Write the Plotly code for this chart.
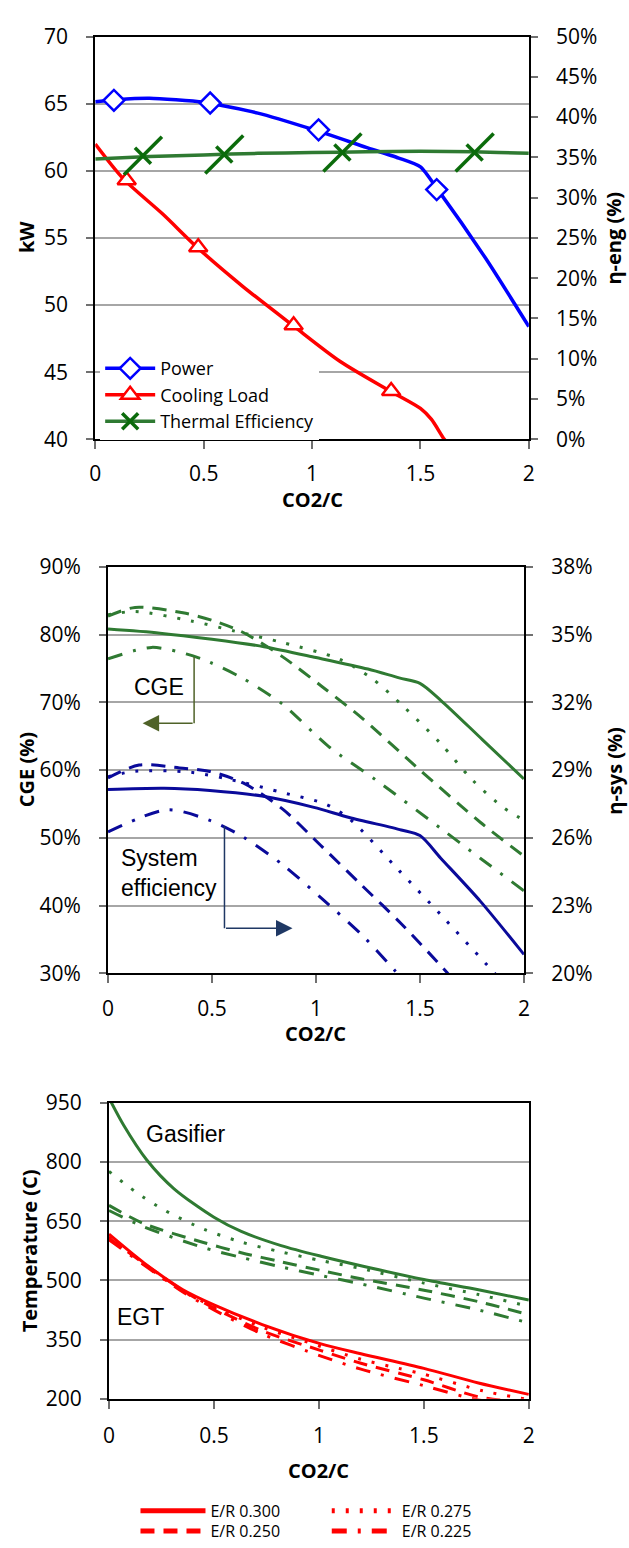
import plotly.graph_objects as go

W, H = 629, 1548

# ---------------- Panel 1 data ----------------
p1_power_x = [0, 0.1, 0.25, 0.5, 0.75, 1.0, 1.25, 1.4, 1.5, 1.58, 1.8, 2.0]
p1_power_y = [65.15, 65.3, 65.4, 65.1, 64.3, 63.1, 61.75, 60.95, 60.3, 58.6, 53.5, 48.4]
p1_cool_x = [0, 0.13, 0.31, 0.47, 0.68, 0.91, 1.13, 1.36, 1.5, 1.55, 1.61, 1.65]
p1_cool_y = [62.0, 59.4, 56.8, 54.3, 51.4, 48.5, 45.8, 43.6, 42.3, 41.5, 40.0, 39.2]
p1_eff_x = [0, 0.25, 0.5, 0.75, 1.0, 1.25, 1.5, 1.75, 2.0]
p1_eff_y = [34.8, 35.1, 35.3, 35.5, 35.6, 35.7, 35.75, 35.7, 35.5]
p1_power_mx = [0.086, 0.53, 1.03, 1.575]
p1_power_my = [65.25, 65.05, 63.05, 58.6]
p1_cool_mx = [0.145, 0.475, 0.915, 1.365]
p1_cool_my = [59.3, 54.3, 48.5, 43.6]
p1_eff_mx = [0.22, 0.595, 1.14, 1.75]
p1_eff_my = [35.2, 35.35, 35.6, 35.6]

# ---------------- Panel 2 data ----------------
cge_300_x = [0, 0.25, 0.5, 0.75, 1.0, 1.25, 1.4, 1.5, 1.6, 1.8, 2.0]
cge_300_y = [80.8, 80.2, 79.3, 78.2, 76.6, 74.9, 73.6, 72.8, 70.3, 64.5, 58.7]
cge_275_x = [0, 0.13, 0.4, 0.61, 0.84, 1.11, 1.27, 1.42, 1.6, 1.75, 1.9, 2.0]
cge_275_y = [82.9, 83.4, 82.0, 80.5, 78.8, 76.4, 73.5, 69.4, 63.9, 58.6, 54.5, 52.6]
cge_250_x = [0, 0.13, 0.36, 0.51, 0.65, 0.84, 1.03, 1.22, 1.5, 1.79, 2.0]
cge_250_y = [82.7, 84.0, 83.2, 82.0, 80.3, 76.7, 72.3, 67.7, 60.0, 52.3, 47.3]
cge_225_x = [0, 0.21, 0.38, 0.49, 0.65, 0.84, 1.06, 1.29, 1.6, 1.79, 2.0]
cge_225_y = [76.4, 78.1, 77.1, 75.9, 73.5, 69.7, 63.5, 58.5, 51.4, 47.0, 42.2]

sys_300_x = [0, 0.27, 0.49, 0.74, 0.99, 1.16, 1.41, 1.5, 1.6, 1.79, 2.0]
sys_300_y = [28.14, 28.2, 28.1, 27.85, 27.35, 26.9, 26.35, 26.1, 25.1, 23.2, 20.84]
sys_275_x = [0, 0.13, 0.4, 0.65, 0.84, 1.045, 1.16, 1.4, 1.6, 1.84, 1.9]
sys_275_y = [28.7, 28.95, 28.9, 28.45, 28.0, 27.5, 26.85, 24.55, 22.6, 20.2, 19.6]
sys_250_x = [0, 0.15, 0.36, 0.49, 0.65, 0.84, 1.03, 1.22, 1.41, 1.63, 1.66]
sys_250_y = [28.65, 29.22, 29.08, 28.94, 28.43, 27.27, 25.6, 23.9, 22.2, 20.04, 19.7]
sys_225_x = [0, 0.285, 0.49, 0.65, 0.84, 1.03, 1.22, 1.38, 1.41]
sys_225_y = [26.26, 27.24, 26.77, 26.04, 24.81, 23.3, 21.71, 20.12, 19.8]

# ---------------- Panel 3 data ----------------
gas_300_x = [0, 0.07, 0.18, 0.31, 0.5, 0.63, 0.82, 1.01, 1.2, 1.5, 1.76, 2.0]
gas_300_y = [962, 893, 805, 732, 660, 624, 588, 561, 537, 502, 476, 450]
gas_275_x = [0, 0.13, 0.26, 0.45, 0.63, 0.82, 1.01, 1.2, 1.5, 1.76, 2.0]
gas_275_y = [776, 723, 679, 630, 597, 572, 550, 530, 493, 464, 434]
gas_250_x = [0, 0.165, 0.45, 0.63, 0.82, 1.01, 1.2, 1.5, 1.76, 2.0]
gas_250_y = [690, 644, 596, 570, 547, 525, 504, 475, 446, 413]
gas_225_x = [0, 0.165, 0.45, 0.63, 0.82, 1.01, 1.2, 1.5, 1.76, 2.0]
gas_225_y = [677, 636, 583, 558, 534, 512, 491, 455, 425, 392]

egt_300_x = [0, 0.165, 0.35, 0.5, 0.73, 1.01, 1.2, 1.5, 1.76, 2.0]
egt_300_y = [617, 545, 477, 438, 388, 339, 314, 277, 240, 211]
egt_275_x = [0, 0.165, 0.35, 0.5, 0.73, 0.93, 1.2, 1.38, 1.5, 1.78, 2.0]
egt_275_y = [611, 541, 473, 433, 381, 346, 300, 277, 262, 220, 198]
egt_250_x = [0, 0.35, 0.5, 0.73, 1.01, 1.2, 1.5, 1.76, 2.0]
egt_250_y = [607, 475, 430, 372, 322, 290, 248, 205, 190]
egt_225_x = [0, 0.35, 0.5, 0.73, 1.01, 1.2, 1.5, 1.76, 2.0]
egt_225_y = [603, 471, 425, 364, 308, 275, 233, 197, 182]

er_labels = ["E/R 0.300", "E/R 0.275", "E/R 0.250", "E/R 0.225"]

# ---------------- styles ----------------
BLUE = "#0000ff"
NAVY = "#0a0a9a"
RED = "#ff0000"
GREEN = "#2f7a32"
XGREEN = "#0b6b0b"
DASHES = {"solid": "solid", "dot": "3px,11px", "dash": "14px,9px", "dashdot": "15px,11px,3px,11px"}
er_dash = ["solid", "dot", "dash", "dashdot"]
TICKFONT = dict(family="Open Sans", size=21, color="black")

fig = go.Figure()

def line(x, y, xa, ya, color, width=3.5, dash="solid", smoothing=0.8):
    fig.add_trace(go.Scatter(x=x, y=y, xaxis=xa, yaxis=ya, mode="lines",
                             line=dict(color=color, width=width, dash=DASHES[dash],
                                       shape="spline", smoothing=smoothing),
                             showlegend=False, hoverinfo="skip"))

# Panel 1 lines
line(p1_power_x, p1_power_y, "x", "y", BLUE, smoothing=0.6)
line(p1_cool_x, p1_cool_y, "x", "y", RED)
line(p1_eff_x, p1_eff_y, "x", "y2", GREEN)
# Panel 1 markers
fig.add_trace(go.Scatter(x=p1_power_mx, y=p1_power_my, xaxis="x", yaxis="y", mode="markers",
                         marker=dict(symbol="diamond", size=16, color="white", line=dict(color=BLUE, width=2.5)),
                         showlegend=False))
fig.add_trace(go.Scatter(x=p1_cool_mx, y=p1_cool_my, xaxis="x", yaxis="y", mode="markers",
                         marker=dict(symbol="triangle-up", size=16, color="white", line=dict(color=RED, width=2.5)),
                         showlegend=False))
fig.add_trace(go.Scatter(x=p1_eff_mx, y=p1_eff_my, xaxis="x", yaxis="y2", mode="markers",
                         marker=dict(symbol="line-ne", size=38, color=XGREEN, line=dict(color=XGREEN, width=3.5)),
                         showlegend=False))
fig.add_trace(go.Scatter(x=p1_eff_mx, y=p1_eff_my, xaxis="x", yaxis="y2", mode="markers",
                         marker=dict(symbol="line-nw", size=16, color=XGREEN, line=dict(color=XGREEN, width=3.5)),
                         showlegend=False))
# Panel 1 legend entries
fig.add_trace(go.Scatter(x=[None], y=[None], name="Power", mode="lines+markers", legend="legend",
                         line=dict(color=BLUE, width=3.5),
                         marker=dict(symbol="diamond", size=16, color="white", line=dict(color=BLUE, width=2.5))))
fig.add_trace(go.Scatter(x=[None], y=[None], name="Cooling Load", mode="lines+markers", legend="legend",
                         line=dict(color=RED, width=3.5),
                         marker=dict(symbol="triangle-up", size=16, color="white", line=dict(color=RED, width=2.5))))
fig.add_trace(go.Scatter(x=[None], y=[None], name="Thermal Efficiency", mode="lines+markers", legend="legend",
                         line=dict(color=GREEN, width=3.5),
                         marker=dict(symbol="x-thin", size=16, color=XGREEN, line=dict(color=XGREEN, width=3.5))))

# Panel 2 lines
for (x, y), d in zip([(cge_300_x, cge_300_y), (cge_275_x, cge_275_y), (cge_250_x, cge_250_y), (cge_225_x, cge_225_y)], er_dash):
    line(x, y, "x2", "y3", GREEN, 3, d)
for (x, y), d in zip([(sys_300_x, sys_300_y), (sys_275_x, sys_275_y), (sys_250_x, sys_250_y), (sys_225_x, sys_225_y)], er_dash):
    line(x, y, "x2", "y4", NAVY, 3, d)

# Panel 3 lines
for (x, y), d in zip([(gas_300_x, gas_300_y), (gas_275_x, gas_275_y), (gas_250_x, gas_250_y), (gas_225_x, gas_225_y)], er_dash):
    line(x, y, "x3", "y5", GREEN, 3, d)
for (x, y), d in zip([(egt_300_x, egt_300_y), (egt_275_x, egt_275_y), (egt_250_x, egt_250_y), (egt_225_x, egt_225_y)], er_dash):
    line(x, y, "x3", "y5", RED, 3, d)

# Bottom legend entries (one legend each)
leg_names = ["legend2", "legend3", "legend4", "legend5"]
for lab, d, ln in zip(er_labels, er_dash, leg_names):
    fig.add_trace(go.Scatter(x=[None], y=[None], name=lab, mode="lines", legend=ln,
                             line=dict(color=RED, width=5, dash=DASHES[d])))

def px(v):
    return v / W

def py(v):
    return 1 - v / H

def xax(d0, d1, anchor, standoff=7):
    return dict(domain=[px(d0), px(d1)], anchor=anchor, range=[0, 2], dtick=0.5, tick0=0,
                ticks="outside", ticklen=8, tickwidth=1.5, tickcolor="#707070",
                showline=True, linecolor="black", linewidth=2, mirror=True,
                showgrid=False, zeroline=False, tickfont=TICKFONT, ticklabelstandoff=standoff)

def yax(d0, d1, anchor, rng, dtick, tick0, suffix="", grid=True, side="left", overlay=None, mirror=False):
    a = dict(domain=[py(d1), py(d0)], anchor=anchor, range=rng, dtick=dtick, tick0=tick0,
             ticks="outside", ticklen=7, tickwidth=1.5, tickcolor="#707070", side=side,
             showline=True, linecolor="black", linewidth=2, mirror=mirror,
             showgrid=grid, gridcolor="#a6a6a6", gridwidth=1.5, zeroline=False,
             tickfont=TICKFONT, ticksuffix=suffix, ticklabelstandoff=14)
    if overlay:
        a["overlaying"] = overlay
        a.pop("domain")
    return a

layout = dict(
    width=W, height=H, margin=dict(l=0, r=0, t=0, b=0),
    paper_bgcolor="white", plot_bgcolor="white",
    font=dict(family="Open Sans", color="black"),
    xaxis=xax(91, 533, "y", 6),
    yaxis=yax(22, 433, "x", [40, 70], 5, 40),
    yaxis2=yax(22, 433, "x", [0, 50], 5, 0, "%", grid=False, side="right", overlay="y"),
    xaxis2=xax(104, 528, "y3", 7),
    yaxis3=yax(563, 978, "x2", [30, 90], 10, 30, "%"),
    yaxis4=yax(563, 978, "x2", [20, 38], 3, 20, "%", grid=False, side="right", overlay="y3"),
    xaxis3=xax(105, 533, "y5", 9),
    yaxis5=yax(1110, 1412, "x3", [200, 950], 150, 200, mirror=True),
    legend=dict(x=px(96), y=py(342), xanchor="left", yanchor="top", bgcolor="white",
                font=dict(family="Open Sans", size=18, color="black"), itemwidth=50,
                tracegroupgap=0),
)
bot_pos = [(132, 1509), (327, 1509), (132, 1530), (327, 1530)]
for ln, (bx, by) in zip(leg_names, bot_pos):
    layout[ln] = dict(x=px(bx), y=py(by), xanchor="left", yanchor="top", bgcolor="rgba(0,0,0,0)",
                      font=dict(family="Open Sans", size=16, color="black"), itemwidth=65)
fig.update_layout(**layout)

# Axis titles
TF = dict(family="Open Sans", size=20, color="black")
def title(text, x, y, angle=0):
    fig.add_annotation(text=text, x=px(x), y=py(y), xref="paper", yref="paper", showarrow=False,
                       textangle=angle, font=TF, xanchor="center", yanchor="middle")

title("<b>kW</b>", 21, 227, -90)
title("<b>η-eng (%)</b>", 619, 228, -90)
title("<b>CO2/C</b>", 312, 494)
title("<b>CGE (%)</b>", 21, 770, -90)
title("<b>η-sys (%)</b>", 620, 771, -90)
title("<b>CO2/C</b>", 316, 1039)
title("<b>Temperature (C)</b>", 24, 1261, -90)
title("<b>CO2/C</b>", 319, 1485)

# In-plot labels
AF = dict(family="Liberation Sans", size=23, color="black")
fig.add_annotation(text="CGE", x=0.245, y=72.2, xref="x2", yref="y3", showarrow=False, font=AF)
fig.add_annotation(text="System<br>efficiency", x=0.052, y=44.75, xref="x2", yref="y3", showarrow=False,
                   font=AF, xanchor="left", align="left")
fig.add_annotation(text="Gasifier", x=0.369, y=870, xref="x3", yref="y5", showarrow=False, font=AF)
fig.add_annotation(text="EGT", x=0.15, y=406, xref="x3", yref="y5", showarrow=False, font=AF)

# Arrows
CGE_C = "#4f6228"
SYS_C = "#1f3864"
fig.add_shape(type="line", x0=0.414, x1=0.414, y0=76.7, y1=66.9, xref="x2", yref="y3",
              line=dict(color=CGE_C, width=1.5))
fig.add_annotation(x=0.1665, y=66.9, ax=0.414, ay=66.9, xref="x2", yref="y3", axref="x2", ayref="y3",
                   text="", showarrow=True, arrowhead=2, arrowsize=2.2, arrowwidth=1.5, arrowcolor=CGE_C)
fig.add_shape(type="line", x0=0.56, x1=0.56, y0=51.7, y1=36.65, xref="x2", yref="y3",
              line=dict(color=SYS_C, width=1.5))
fig.add_annotation(x=0.887, y=36.65, ax=0.56, ay=36.65, xref="x2", yref="y3", axref="x2", ayref="y3",
                   text="", showarrow=True, arrowhead=2, arrowsize=2.2, arrowwidth=1.5, arrowcolor=SYS_C)

fig.write_html("out.html")
